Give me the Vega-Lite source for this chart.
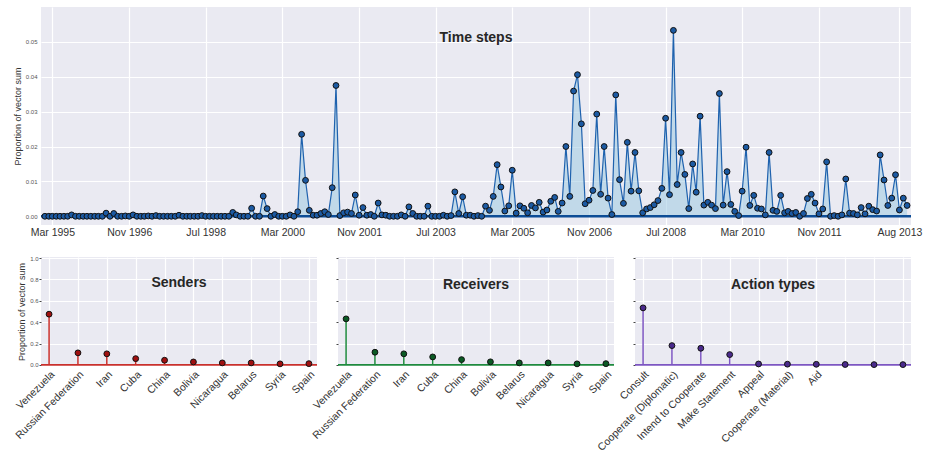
{
 "$schema": "https://vega.github.io/schema/vega-lite/v6.json",
 "padding": {"left": 13, "top": 7, "right": 3, "bottom": 5},
 "background": "white",
 "bounds": "flush",
 "spacing": 32,
 "config": {
  "view": {"fill": "#EAEAF2", "stroke": null},
  "font": "Liberation Sans",
  "axis": {"grid": true, "gridColor": "white", "gridWidth": 1.2, "domain": false, "ticks": false, "labelColor": "#333333", "titleColor": "#333333", "titleFontWeight": "normal", "labelOverlap": false, "tickColor": "#444444"},
  "title": {"fontSize": 14, "fontWeight": "bold", "color": "#262626", "anchor": "middle"}
 },
 "datasets": {
  "ts": [
   {"d":"1995-01-01","v":0},{"d":"1995-02-01","v":0},{"d":"1995-03-01","v":0},{"d":"1995-04-01","v":0},{"d":"1995-05-01","v":0},{"d":"1995-06-01","v":0},{"d":"1995-07-01","v":0},{"d":"1995-08-01","v":0.0004},{"d":"1995-09-01","v":0},{"d":"1995-10-01","v":0},{"d":"1995-11-01","v":0},{"d":"1995-12-01","v":0},
   {"d":"1996-01-01","v":0},{"d":"1996-02-01","v":0},{"d":"1996-03-01","v":0},{"d":"1996-04-01","v":0},{"d":"1996-05-01","v":0.0009},{"d":"1996-06-01","v":0},{"d":"1996-07-01","v":0.0008},{"d":"1996-08-01","v":0},{"d":"1996-09-01","v":0},{"d":"1996-10-01","v":0.0001},{"d":"1996-11-01","v":0},{"d":"1996-12-01","v":0.0004},
   {"d":"1997-01-01","v":0},{"d":"1997-02-01","v":0},{"d":"1997-03-01","v":0},{"d":"1997-04-01","v":0.0001},{"d":"1997-05-01","v":0},{"d":"1997-06-01","v":0.0002},{"d":"1997-07-01","v":0},{"d":"1997-08-01","v":0},{"d":"1997-09-01","v":0},{"d":"1997-10-01","v":0},{"d":"1997-11-01","v":0},{"d":"1997-12-01","v":0.0003},
   {"d":"1998-01-01","v":0},{"d":"1998-02-01","v":0},{"d":"1998-03-01","v":0},{"d":"1998-04-01","v":0},{"d":"1998-05-01","v":0},{"d":"1998-06-01","v":0.0002},{"d":"1998-07-01","v":0},{"d":"1998-08-01","v":0},{"d":"1998-09-01","v":0},{"d":"1998-10-01","v":0},{"d":"1998-11-01","v":0},{"d":"1998-12-01","v":0},
   {"d":"1999-01-01","v":0},{"d":"1999-02-01","v":0.0011},{"d":"1999-03-01","v":0.0004},{"d":"1999-04-01","v":0},{"d":"1999-05-01","v":0},{"d":"1999-06-01","v":0},{"d":"1999-07-01","v":0.0023},{"d":"1999-08-01","v":0},{"d":"1999-09-01","v":0},{"d":"1999-10-01","v":0.0058},{"d":"1999-11-01","v":0.0022},{"d":"1999-12-01","v":0},
   {"d":"2000-01-01","v":0.0005},{"d":"2000-02-01","v":0},{"d":"2000-03-01","v":0},{"d":"2000-04-01","v":0},{"d":"2000-05-01","v":0.0004},{"d":"2000-06-01","v":0},{"d":"2000-07-01","v":0.0013},{"d":"2000-08-01","v":0.0235},{"d":"2000-09-01","v":0.0103},{"d":"2000-10-01","v":0.0017},{"d":"2000-11-01","v":0.0003},{"d":"2000-12-01","v":0.0003},
   {"d":"2001-01-01","v":0.0008},{"d":"2001-02-01","v":0.0013},{"d":"2001-03-01","v":0.0005},{"d":"2001-04-01","v":0.0082},{"d":"2001-05-01","v":0.0375},{"d":"2001-06-01","v":0.0002},{"d":"2001-07-01","v":0.001},{"d":"2001-08-01","v":0.0012},{"d":"2001-09-01","v":0.0008},{"d":"2001-10-01","v":0.0061},{"d":"2001-11-01","v":0.0003},{"d":"2001-12-01","v":0.0025},
   {"d":"2002-01-01","v":0.0003},{"d":"2002-02-01","v":0.0005},{"d":"2002-03-01","v":0},{"d":"2002-04-01","v":0.0038},{"d":"2002-05-01","v":0.0004},{"d":"2002-06-01","v":0.0003},{"d":"2002-07-01","v":0},{"d":"2002-08-01","v":0},{"d":"2002-09-01","v":0},{"d":"2002-10-01","v":0.0004},{"d":"2002-11-01","v":0},{"d":"2002-12-01","v":0.0027},
   {"d":"2003-01-01","v":0.0008},{"d":"2003-02-01","v":0},{"d":"2003-03-01","v":0},{"d":"2003-04-01","v":0},{"d":"2003-05-01","v":0.0029},{"d":"2003-06-01","v":0},{"d":"2003-07-01","v":0},{"d":"2003-08-01","v":0},{"d":"2003-09-01","v":0.0003},{"d":"2003-10-01","v":0},{"d":"2003-11-01","v":0.0002},{"d":"2003-12-01","v":0.007},
   {"d":"2004-01-01","v":0.0008},{"d":"2004-02-01","v":0.0056},{"d":"2004-03-01","v":0.0003},{"d":"2004-04-01","v":0.0003},{"d":"2004-05-01","v":0},{"d":"2004-06-01","v":0.0002},{"d":"2004-07-01","v":0},{"d":"2004-08-01","v":0.0029},{"d":"2004-09-01","v":0.0017},{"d":"2004-10-01","v":0.0057},{"d":"2004-11-01","v":0.0148},{"d":"2004-12-01","v":0.0084},
   {"d":"2005-01-01","v":0.0015},{"d":"2005-02-01","v":0.003},{"d":"2005-03-01","v":0.0132},{"d":"2005-04-01","v":0.0009},{"d":"2005-05-01","v":0.003},{"d":"2005-06-01","v":0.0023},{"d":"2005-07-01","v":0.001},{"d":"2005-08-01","v":0.0031},{"d":"2005-09-01","v":0.0024},{"d":"2005-10-01","v":0.004},{"d":"2005-11-01","v":0.0012},{"d":"2005-12-01","v":0.0018},
   {"d":"2006-01-01","v":0.0043},{"d":"2006-02-01","v":0.0054},{"d":"2006-03-01","v":0.0014},{"d":"2006-04-01","v":0.0038},{"d":"2006-05-01","v":0.02},{"d":"2006-06-01","v":0.0057},{"d":"2006-07-01","v":0.0359},{"d":"2006-08-01","v":0.0406},{"d":"2006-09-01","v":0.0265},{"d":"2006-10-01","v":0.0036},{"d":"2006-11-01","v":0.0046},{"d":"2006-12-01","v":0.0074},
   {"d":"2007-01-01","v":0.0293},{"d":"2007-02-01","v":0.0063},{"d":"2007-03-01","v":0.02},{"d":"2007-04-01","v":0.0052},{"d":"2007-05-01","v":0.0005},{"d":"2007-06-01","v":0.0348},{"d":"2007-07-01","v":0.0105},{"d":"2007-08-01","v":0.0037},{"d":"2007-09-01","v":0.0212},{"d":"2007-10-01","v":0.0072},{"d":"2007-11-01","v":0.0183},{"d":"2007-12-01","v":0.0073},
   {"d":"2008-01-01","v":0.001},{"d":"2008-02-01","v":0.0021},{"d":"2008-03-01","v":0.0025},{"d":"2008-04-01","v":0.0033},{"d":"2008-05-01","v":0.0045},{"d":"2008-06-01","v":0.008},{"d":"2008-07-01","v":0.0281},{"d":"2008-08-01","v":0.0062},{"d":"2008-09-01","v":0.0533},{"d":"2008-10-01","v":0.0091},{"d":"2008-11-01","v":0.0183},{"d":"2008-12-01","v":0.012},
   {"d":"2009-01-01","v":0.0022},{"d":"2009-02-01","v":0.015},{"d":"2009-03-01","v":0.0069},{"d":"2009-04-01","v":0.0287},{"d":"2009-05-01","v":0.0032},{"d":"2009-06-01","v":0.004},{"d":"2009-07-01","v":0.0032},{"d":"2009-08-01","v":0.0022},{"d":"2009-09-01","v":0.0352},{"d":"2009-10-01","v":0.0032},{"d":"2009-11-01","v":0.0128},{"d":"2009-12-01","v":0.0034},
   {"d":"2010-01-01","v":0.0014},{"d":"2010-02-01","v":0.0002},{"d":"2010-03-01","v":0.0072},{"d":"2010-04-01","v":0.0198},{"d":"2010-05-01","v":0.0031},{"d":"2010-06-01","v":0.006},{"d":"2010-07-01","v":0.0023},{"d":"2010-08-01","v":0.0021},{"d":"2010-09-01","v":0.0004},{"d":"2010-10-01","v":0.0183},{"d":"2010-11-01","v":0.0017},{"d":"2010-12-01","v":0.0014},
   {"d":"2011-01-01","v":0.006},{"d":"2011-02-01","v":0.001},{"d":"2011-03-01","v":0.0014},{"d":"2011-04-01","v":0.0008},{"d":"2011-05-01","v":0.0011},{"d":"2011-06-01","v":0},{"d":"2011-07-01","v":0.0008},{"d":"2011-08-01","v":0.0051},{"d":"2011-09-01","v":0.0063},{"d":"2011-10-01","v":0.0038},{"d":"2011-11-01","v":0.0007},{"d":"2011-12-01","v":0.0021},
   {"d":"2012-01-01","v":0.0156},{"d":"2012-02-01","v":0},{"d":"2012-03-01","v":0.0002},{"d":"2012-04-01","v":0},{"d":"2012-05-01","v":0.0004},{"d":"2012-06-01","v":0.0107},{"d":"2012-07-01","v":0.0009},{"d":"2012-08-01","v":0.0008},{"d":"2012-09-01","v":0.0004},{"d":"2012-10-01","v":0.0025},{"d":"2012-11-01","v":0.0007},{"d":"2012-12-01","v":0.0029},
   {"d":"2013-01-01","v":0.0019},{"d":"2013-02-01","v":0.0015},{"d":"2013-03-01","v":0.0176},{"d":"2013-04-01","v":0.0104},{"d":"2013-05-01","v":0.0031},{"d":"2013-06-01","v":0.0052},{"d":"2013-07-01","v":0.0119},{"d":"2013-08-01","v":0.0018},{"d":"2013-09-01","v":0.0052},{"d":"2013-10-01","v":0.0031}
  ],
  "senders": [
   {"name":"Venezuela","p":0.475},{"name":"Russian Federation","p":0.113},{"name":"Iran","p":0.104},{"name":"Cuba","p":0.059},{"name":"China","p":0.044},{"name":"Bolivia","p":0.028},{"name":"Nicaragua","p":0.019},{"name":"Belarus","p":0.019},{"name":"Syria","p":0.01},{"name":"Spain","p":0.012}
  ],
  "receivers": [
   {"name":"Venezuela","p":0.431},{"name":"Russian Federation","p":0.119},{"name":"Iran","p":0.104},{"name":"Cuba","p":0.075},{"name":"China","p":0.05},{"name":"Bolivia","p":0.029},{"name":"Belarus","p":0.019},{"name":"Nicaragua","p":0.019},{"name":"Syria","p":0.01},{"name":"Spain","p":0.012}
  ],
  "actions": [
   {"name":"Consult","p":0.534},{"name":"Cooperate (Diplomatic)","p":0.181},{"name":"Intend to Cooperate","p":0.156},{"name":"Make Statement","p":0.097},{"name":"Appeal","p":0.009},{"name":"Cooperate (Material)","p":0.007},{"name":"Aid","p":0.006},{"name":" ","p":0.004},{"name":"  ","p":0.003},{"name":"   ","p":0.003}
  ],
  "one": [{}]
 },
 "vconcat": [
  {
   "width": 870,
   "height": 218,
   "title": {"text": "Time steps", "offset": -38},
   "layer": [
    {
     "data": {"name": "ts"},
     "mark": {"type": "area", "color": "#9ecae1", "opacity": 0.55},
     "encoding": {
      "x": {"field": "d", "type": "temporal",
            "scale": {"type": "utc", "domain": [{"year": 1994, "month": 12, "date": 1, "utc": true}, {"year": 2013, "month": 11, "date": 1, "utc": true}]},
            "axis": {"title": null, "format": "%b %Y", "labelFontSize": 10.5, "labelPadding": 2, "labelFlush": false, "labelOverlap": false, "tickCount": 40,
                     "values": [{"year":1995,"month":3,"date":1,"utc":true},{"year":1996,"month":11,"date":1,"utc":true},{"year":1998,"month":7,"date":1,"utc":true},{"year":2000,"month":3,"date":1,"utc":true},{"year":2001,"month":11,"date":1,"utc":true},{"year":2003,"month":7,"date":1,"utc":true},{"year":2005,"month":3,"date":1,"utc":true},{"year":2006,"month":11,"date":1,"utc":true},{"year":2008,"month":7,"date":1,"utc":true},{"year":2010,"month":3,"date":1,"utc":true},{"year":2011,"month":11,"date":1,"utc":true},{"year":2013,"month":8,"date":1,"utc":true}]}},
      "y": {"field": "v", "type": "quantitative",
            "scale": {"domain": [-0.0025, 0.06], "nice": false, "zero": false},
            "axis": {"title": "Proportion of vector sum", "values": [0, 0.01, 0.02, 0.03, 0.04, 0.05], "tickCount": 20, "format": ".2f", "labelFontSize": 6, "labelColor": "#555555", "titleFontSize": 9, "labelPadding": 4, "titlePadding": 3, "labelOverlap": false}},
      "y2": {"datum": 0}
     }
    },
    {
     "data": {"name": "ts"},
     "mark": {"type": "line", "color": "#1f62ae", "strokeWidth": 1.2},
     "encoding": {
      "x": {"field": "d", "type": "temporal"},
      "y": {"field": "v", "type": "quantitative"}
     }
    },
    {
     "data": {"name": "one"},
     "mark": {"type": "rule", "color": "#0d4d96", "strokeWidth": 2.5},
     "encoding": {"y": {"datum": 0}}
    },
    {
     "data": {"name": "ts"},
     "mark": {"type": "point", "filled": true, "fill": "#1c5aa3", "stroke": "#111111", "strokeWidth": 1, "size": 34, "opacity": 1},
     "encoding": {
      "x": {"field": "d", "type": "temporal"},
      "y": {"field": "v", "type": "quantitative"}
     }
    }
   ]
  },
  {
   "bounds": "flush",
   "spacing": 21,
   "hconcat": [
    {
     "width": 276,
     "height": 109,
     "title": {"text": "Senders", "offset": -35},
     "layer": [
      {
       "data": {"name": "senders"},
       "mark": {"type": "rule", "color": "#c9302c", "strokeWidth": 1.5},
       "encoding": {
        "x": {"field": "name", "type": "nominal", "sort": null, "scale": {"type": "point", "padding": 0.28},
              "axis": {"title": null, "grid": true, "labelAngle": -45, "labelAlign": "right", "labelBaseline": "top", "labelFontSize": 10.5, "labelPadding": 3, "labelOverlap": false}},
        "y": {"field": "p", "type": "quantitative", "scale": {"domain": [-0.01, 1.01], "nice": false, "zero": false},
              "axis": {"title": "Proportion of vector sum", "values": [0, 0.2, 0.4, 0.6, 0.8, 1.0], "tickCount": 20, "format": ".1f", "labelFontSize": 6, "labelColor": "#555555", "titleFontSize": 9, "ticks": true, "tickSize": 2, "labelPadding": 1, "titlePadding": 3, "labelOverlap": false, "labelFlush": false}},
        "y2": {"datum": 0}
       }
      },
      {
       "data": {"name": "one"},
       "mark": {"type": "rule", "color": "#c9302c", "strokeWidth": 1.8},
       "encoding": {"y": {"datum": 0}}
      },
      {
       "data": {"name": "senders"},
       "mark": {"type": "point", "filled": true, "fill": "#a01010", "stroke": "#111111", "strokeWidth": 1, "size": 34, "opacity": 1},
       "encoding": {
        "x": {"field": "name", "type": "nominal", "sort": null},
        "y": {"field": "p", "type": "quantitative"}
       }
      }
     ]
    },
    {
     "width": 276,
     "height": 109,
     "title": {"text": "Receivers", "offset": -35},
     "layer": [
      {
       "data": {"name": "receivers"},
       "mark": {"type": "rule", "color": "#1e8a3e", "strokeWidth": 1.5},
       "encoding": {
        "x": {"field": "name", "type": "nominal", "sort": null, "scale": {"type": "point", "padding": 0.28},
              "axis": {"title": null, "grid": true, "labelAngle": -45, "labelAlign": "right", "labelBaseline": "top", "labelFontSize": 10.5, "labelPadding": 3, "labelOverlap": false}},
        "y": {"field": "p", "type": "quantitative", "scale": {"domain": [-0.01, 1.01], "nice": false, "zero": false},
              "axis": {"title": null, "labels": false, "ticks": true, "tickSize": 2, "tickCount": 20, "values": [0, 0.2, 0.4, 0.6, 0.8, 1.0]}},
        "y2": {"datum": 0}
       }
      },
      {
       "data": {"name": "one"},
       "mark": {"type": "rule", "color": "#1e8a3e", "strokeWidth": 1.8},
       "encoding": {"y": {"datum": 0}}
      },
      {
       "data": {"name": "receivers"},
       "mark": {"type": "point", "filled": true, "fill": "#0b5a24", "stroke": "#111111", "strokeWidth": 1, "size": 34, "opacity": 1},
       "encoding": {
        "x": {"field": "name", "type": "nominal", "sort": null},
        "y": {"field": "p", "type": "quantitative"}
       }
      }
     ]
    },
    {
     "width": 276,
     "height": 109,
     "title": {"text": "Action types", "offset": -35},
     "layer": [
      {
       "data": {"name": "actions"},
       "mark": {"type": "rule", "color": "#7d56c2", "strokeWidth": 1.5},
       "encoding": {
        "x": {"field": "name", "type": "nominal", "sort": null, "scale": {"type": "point", "padding": 0.28},
              "axis": {"title": null, "grid": true, "labelAngle": -45, "labelAlign": "right", "labelBaseline": "top", "labelFontSize": 10.5, "labelPadding": 3, "labelOverlap": false}},
        "y": {"field": "p", "type": "quantitative", "scale": {"domain": [-0.01, 1.01], "nice": false, "zero": false},
              "axis": {"title": null, "labels": false, "ticks": true, "tickSize": 2, "tickCount": 20, "values": [0, 0.2, 0.4, 0.6, 0.8, 1.0]}},
        "y2": {"datum": 0}
       }
      },
      {
       "data": {"name": "one"},
       "mark": {"type": "rule", "color": "#7d56c2", "strokeWidth": 1.8},
       "encoding": {"y": {"datum": 0}}
      },
      {
       "data": {"name": "actions"},
       "mark": {"type": "point", "filled": true, "fill": "#4a2a8c", "stroke": "#111111", "strokeWidth": 1, "size": 34, "opacity": 1},
       "encoding": {
        "x": {"field": "name", "type": "nominal", "sort": null},
        "y": {"field": "p", "type": "quantitative"}
       }
      }
     ]
    }
   ]
  }
 ]
}
